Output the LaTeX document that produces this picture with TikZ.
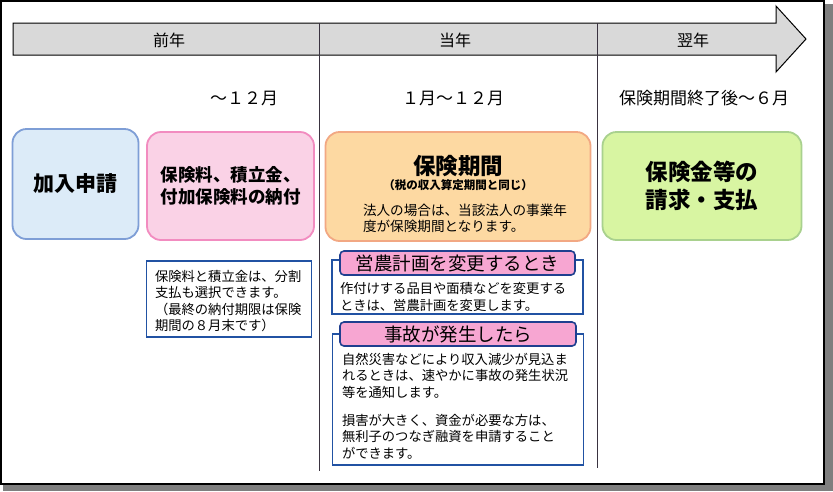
\documentclass[tikz,border=0pt]{standalone}
\usepackage{fontspec}
\newfontfamily\jp{Noto Sans CJK JP}
\definecolor{arrowgray}{HTML}{D9D9D9}
\definecolor{shadowgray}{HTML}{7F7F7F}
\definecolor{divline}{HTML}{3A3340}
\definecolor{bluefill}{HTML}{DCEBF8}
\definecolor{blueedge}{HTML}{7E9ED6}
\definecolor{pinkfill}{HTML}{FAD2E6}
\definecolor{pinkedge}{HTML}{F28CC0}
\definecolor{orangefill}{HTML}{FDD9A2}
\definecolor{orangeedge}{HTML}{F2A883}
\definecolor{greenfill}{HTML}{D8F5A2}
\definecolor{greenedge}{HTML}{A9D18E}
\definecolor{noteblue}{HTML}{2152A3}
\definecolor{tabblue}{HTML}{1F3F8F}
\definecolor{tabpink}{HTML}{F7A6D2}
\begin{document}
\begin{tikzpicture}[x=1pt,y=-1pt,
  every node/.style={inner sep=0pt, outer sep=0pt},
  bigbox/.style={rounded corners=14pt, line width=1.8pt, align=center, font=\jp},
  notebox/.style={draw=noteblue, line width=1.8pt, fill=white},
  tabbox/.style={draw=tabblue, fill=tabpink, line width=1.6pt, rounded corners=4pt, font=\jp\fontsize{18.5}{20}\selectfont},
  hdr/.style={font=\jp\fontsize{16}{18}\selectfont},
  mon/.style={font=\jp\fontsize{17}{19}\selectfont},
  bodytext/.style={align=left, anchor=west, font=\jp\fontsize{13.3}{16.5}\selectfont}
]
\useasboundingbox (0,0) rectangle (833,491);
% frame and shadow
\fill[shadowgray] (3,4) rectangle (833,491);
\draw[fill=white, line width=1.5pt] (1,1) rectangle (824,484);
% time arrow
\draw[fill=arrowgray, line width=1pt] (13,23) -- (776,23) -- (776,6) -- (806,39) -- (776,72) -- (776,55) -- (13,55) -- cycle;
% dividers
\draw[divline, line width=1pt] (319,23) -- (319,471);
\draw[divline, line width=1pt] (597,23) -- (597,468);
% headers
\node[hdr] (h1) at (169,40) {前年};
\node[hdr] (h2) at (455,40) {当年};
\node[hdr] (h3) at (693,40) {翌年};
\node[mon] (m1) at (244,98) {～１２月};
\node[mon] (m2) at (453,98) {１月～１２月};
\node[mon] (m3) at (704,98) {保険期間終了後～６月};
% big boxes
\node[bigbox, fill=bluefill, draw=blueedge, minimum width=126pt, minimum height=110pt,
  font=\jp\bfseries\fontsize{21}{24}\selectfont] (kanyu) at (75.5,184) {加入申請};
\node[bigbox, fill=pinkfill, draw=pinkedge, minimum width=167pt, minimum height=108pt,
  font=\jp\bfseries\fontsize{17.5}{22}\selectfont] (nofu) at (230.5,186) {保険料、積立金、\\付加保険料の納付};
\node[bigbox, fill=orangefill, draw=orangeedge, minimum width=265pt, minimum height=109pt] (kikan) at (458,186.5) {};
\node[font=\jp\bfseries\fontsize{22.5}{24}\selectfont] (kikant) at (458,166) {保険期間};
\node[font=\jp\bfseries\fontsize{11.5}{13}\selectfont] (kikans) at (458,185.5) {（税の収入算定期間と同じ）};
\node[bodytext, font=\jp\fontsize{13.6}{16}\selectfont] (kikanb) at (363,218) {法人の場合は、当該法人の事業年\\度が保険期間となります。};
\node[bigbox, fill=greenfill, draw=greenedge, minimum width=199pt, minimum height=108pt,
  font=\jp\bfseries\fontsize{22.5}{28}\selectfont] (seikyu) at (702,186) {保険金等の\\請求・支払};
% note under payment box
\node[notebox, minimum width=165pt, minimum height=76pt] (note1) at (229,299) {};
\node[bodytext] (note1t) at (155,301) {保険料と積立金は、分割\\支払も選択できます。\\（最終の納付期限は保険\\期間の８月末です）};
% plan change box
\node[notebox, minimum width=251pt, minimum height=54pt] (plan) at (457.5,287) {};
\node[tabbox, minimum width=235pt, minimum height=24pt] (plantab) at (457.5,263) {営農計画を変更するとき};
\node[bodytext] (plant) at (340,297) {作付けする品目や面積などを変更する\\ときは、営農計画を変更します。};
% accident box
\node[notebox, minimum width=251pt, minimum height=131pt] (acc) at (458,399.5) {};
\node[tabbox, minimum width=236pt, minimum height=24pt] (acctab) at (458,334) {事故が発生したら};
\node[bodytext] (acct1) at (342,375.5) {自然災害などにより収入減少が見込ま\\れるときは、速やかに事故の発生状況\\等を通知します。};
\node[bodytext] (acct2) at (342,436.5) {損害が大きく、資金が必要な方は、\\無利子のつなぎ融資を申請すること\\ができます。};
\end{tikzpicture}
\end{document}
